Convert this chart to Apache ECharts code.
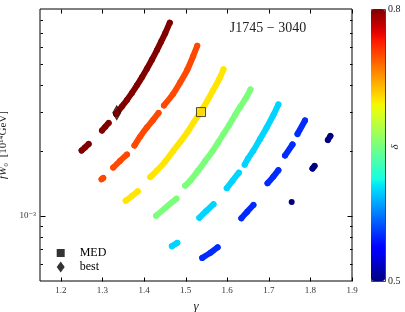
<!DOCTYPE html>
<html><head><meta charset="utf-8">
<script src="https://cdn.jsdelivr.net/npm/echarts@6/dist/echarts.min.js"></script>
<style>html,body{margin:0;padding:0;background:#fff}#c{width:405px;height:312px}</style>
</head><body><div id="c"></div>
<script>
// ---- data (gamma, fW0); each curve = list of visible segments ----
const deltaLevels = [0.8, 0.75, 0.7, 0.65, 0.6, 0.55, 0.5];
const curveD080 = [
  [[1.250,2.000e-3],[1.258,2.064e-3],[1.267,2.143e-3]],
  [[1.299,2.475e-3],[1.307,2.576e-3],[1.315,2.681e-3]],
  [[1.333,2.951e-3],[1.347,3.196e-3],[1.359,3.425e-3],[1.371,3.691e-3],[1.383,3.999e-3],[1.395,4.354e-3],
   [1.407,4.767e-3],[1.419,5.248e-3],[1.431,5.806e-3],[1.441,6.357e-3],[1.451,6.961e-3],[1.462,7.785e-3]]
];
const curveD075 = [
  [[1.298,1.474e-3],[1.302,1.495e-3]],
  [[1.326,1.668e-3],[1.342,1.788e-3],[1.359,1.916e-3]],
  [[1.377,2.109e-3],[1.391,2.322e-3],[1.407,2.556e-3],[1.422,2.768e-3],[1.435,2.983e-3]],
  [[1.448,3.231e-3],[1.470,3.652e-3],[1.487,4.128e-3],[1.504,4.717e-3],[1.518,5.446e-3],[1.528,6.091e-3]]
];
const curveD070 = [
  [[1.356,1.173e-3],[1.371,1.234e-3],[1.385,1.296e-3]],
  [[1.415,1.508e-3],[1.431,1.616e-3],[1.451,1.778e-3],[1.470,1.989e-3],[1.487,2.189e-3],[1.504,2.423e-3],
   [1.520,2.709e-3],[1.536,3.015e-3],[1.552,3.389e-3],[1.566,3.791e-3],[1.581,4.284e-3],[1.591,4.743e-3]]
];
const curveD065 = [
  [[1.429,1.000e-3],[1.453,1.095e-3],[1.478,1.199e-3]],
  [[1.499,1.377e-3],[1.511,1.452e-3],[1.530,1.616e-3],[1.547,1.788e-3],[1.564,1.978e-3],[1.578,2.178e-3],
   [1.591,2.384e-3],[1.605,2.624e-3],[1.619,2.920e-3],[1.631,3.179e-3],[1.646,3.518e-3],[1.656,3.831e-3]]
];
const curveD060 = [
  [[1.467,0.724e-3],[1.480,0.750e-3]],
  [[1.533,0.979e-3],[1.549,1.049e-3],[1.567,1.130e-3]],
  [[1.599,1.341e-3],[1.613,1.452e-3],[1.628,1.581e-3]],
  [[1.642,1.722e-3],[1.650,1.836e-3],[1.663,2.000e-3],[1.679,2.261e-3],[1.695,2.556e-3],[1.711,2.920e-3],[1.723,3.266e-3]]
];
const curveD055 = [
  [[1.540,0.639e-3],[1.559,0.674e-3],[1.577,0.715e-3]],
  [[1.634,0.974e-3],[1.648,1.044e-3],[1.663,1.121e-3]],
  [[1.697,1.414e-3],[1.711,1.516e-3],[1.723,1.624e-3]],
  [[1.739,1.896e-3],[1.757,2.132e-3]],
  [[1.769,2.384e-3],[1.787,2.754e-3]]
];
const curveD050 = [
  [[1.755,1.157e-3]],
  [[1.805,1.651e-3],[1.810,1.699e-3]],
  [[1.842,2.236e-3],[1.848,2.334e-3]]
];
const curves = [curveD080, curveD075, curveD070, curveD065, curveD060, curveD055, curveD050];
// markers: [gamma, fW0, delta]
const medPoint = [1.537, 3.01e-3, 0.705];
const bestPoint = [1.3345, 2.99e-3, 0.8];
// axes
const xRange = [1.15, 1.9];
const yRange = [5e-4, 9e-3];
const xTicks = [1.2, 1.3, 1.4, 1.5, 1.6, 1.7, 1.8, 1.9];
const yMajorTicks = [1e-3];
const yMinorTicks = [6e-4, 7e-4, 8e-4, 9e-4, 2e-3, 3e-3, 4e-3, 5e-3, 6e-3, 7e-3, 8e-3];
const deltaRange = [0.5, 0.8];
const labelText = {title: 'J1745 \u2212 3040', med: 'MED', best: 'best'};

// ---- styling / build ----
const SERIF = '"Liberation Serif", "DejaVu Serif", serif';
function jet(t) {
  const r = t < 0.35 ? 0 : t < 0.66 ? (t - 0.35) / 0.31 : t < 0.89 ? 1 : 1 - 0.5 * (t - 0.89) / 0.11;
  const g = t < 0.125 ? 0 : t < 0.375 ? (t - 0.125) / 0.25 : t < 0.64 ? 1 : t < 0.91 ? 1 - (t - 0.64) / 0.27 : 0;
  const b = t < 0.11 ? 0.5 + 0.5 * t / 0.11 : t < 0.34 ? 1 : t < 0.65 ? 1 - (t - 0.34) / 0.31 : 0;
  return 'rgb(' + [r, g, b].map(v => Math.round(255 * Math.max(0, Math.min(1, v)))).join(',') + ')';
}
const norm = d => (d - deltaRange[0]) / (deltaRange[1] - deltaRange[0]);
const jetColors = Array.from({length: 41}, (_, i) => jet(i / 40));

const series = [];
curves.forEach((segs, ci) => {
  const col = jet(norm(deltaLevels[ci]));
  segs.forEach(seg => {
    series.push({
      type: 'line', data: seg, silent: true, animation: false, smooth: 0.3,
      symbol: 'circle', symbolSize: 6, showSymbol: true,
      itemStyle: {color: col, borderWidth: 0},
      lineStyle: {color: col, width: 6, cap: 'round', join: 'round'},
      z: 2
    });
  });
});
const medIndex = series.length;
series.push({name: 'MED', type: 'scatter', data: [medPoint], symbol: 'rect', symbolSize: 9,
  itemStyle: {borderColor: '#222', borderWidth: 1}, z: 6, silent: true, animation: false});
series.push({name: 'best', type: 'scatter', data: [bestPoint], symbol: 'diamond', symbolSize: [8, 14],
  itemStyle: {borderColor: '#111', borderWidth: 1}, z: 6, silent: true, animation: false});

function tickSeries(points, dx, dy) {
  return {
    type: 'custom', coordinateSystem: 'cartesian2d', silent: true, clip: false, z: 8, animation: false,
    data: points,
    renderItem: function (params, api) {
      const p = api.coord([api.value(0), api.value(1)]);
      const x = Math.round(p[0]) + 0.5, y = Math.round(p[1]) + 0.5;
      return {type: 'line', shape: {x1: x, y1: y, x2: x + dx, y2: y + dy},
        style: {stroke: '#000', lineWidth: 1}};
    }
  };
}
series.push(tickSeries(xTicks.map(v => [v, yRange[0]]), 0, -4));
series.push(tickSeries(xTicks.map(v => [v, yRange[1]]), 0, 4));
series.push(tickSeries(yMajorTicks.map(v => [xRange[0], v]), 5, 0));
series.push(tickSeries(yMajorTicks.map(v => [xRange[1], v]), -5, 0));
series.push(tickSeries(yMinorTicks.map(v => [xRange[0], v]), 2.5, 0));
series.push(tickSeries(yMinorTicks.map(v => [xRange[1], v]), -2.5, 0));

const chart = echarts.init(document.getElementById('c'), null, {renderer: 'canvas'});
chart.setOption({
  animation: false,
  backgroundColor: '#fff',
  grid: {left: 40, top: 9, width: 312, height: 272, show: true, borderColor: '#000', borderWidth: 1,
    containLabel: false, outerBoundsMode: 'none'},
  xAxis: {
    type: 'value', min: xRange[0], max: xRange[1],
    axisLine: {show: false}, axisTick: {show: false}, splitLine: {show: false},
    axisLabel: {customValues: xTicks, formatter: v => v.toFixed(1), margin: 5,
      fontFamily: SERIF, fontSize: 9, color: '#333'},
    name: '\u03b3', nameLocation: 'middle', nameGap: 15,
    nameTextStyle: {fontFamily: SERIF, fontStyle: 'italic', fontSize: 13, color: '#222'}
  },
  yAxis: {
    type: 'log', min: yRange[0], max: yRange[1],
    axisLine: {show: false}, axisTick: {show: false}, splitLine: {show: false},
    axisLabel: {formatter: v => (Math.abs(Math.log10(v) + 3) < 1e-6 ? '10\u207b\u00b3' : ''),
      margin: 4, fontFamily: SERIF, fontSize: 9, color: '#333', showMinLabel: false, showMaxLabel: false},
    name: '{it|fW}{n|\u2080  [10\u00b9\u2074GeV]}', nameLocation: 'middle', nameGap: 22, nameRotate: 90,
    nameTextStyle: {fontFamily: SERIF, fontSize: 11, color: '#222',
      rich: {it: {fontFamily: SERIF, fontStyle: 'italic', fontSize: 11, color: '#222'},
             n: {fontFamily: SERIF, fontSize: 11, color: '#222'}}}
  },
  visualMap: {
    type: 'continuous', min: deltaRange[0], max: deltaRange[1], dimension: 2,
    seriesIndex: [medIndex, medIndex + 1], calculable: false, hoverLink: false, realtime: false,
    left: 371, top: 9, itemWidth: 14, itemHeight: 272, padding: 0, orient: 'vertical',
    text: null, inRange: {color: jetColors}
  },
  legend: [
    {data: [{name: 'MED', icon: 'path://M0,0H10V10H0Z', itemStyle: {color: '#000', borderWidth: 0}}],
     left: 56.7, top: 247, itemWidth: 8, itemHeight: 8, padding: 0, selectedMode: false,
     textStyle: {fontFamily: SERIF, fontSize: 12, color: '#000', padding: [0, 0, 0, 10]}},
    {data: [{name: 'best', icon: 'path://M5,0L10,7L5,14L0,7Z', itemStyle: {color: '#000', borderWidth: 0}}],
     left: 56.7, top: 261, itemWidth: 8, itemHeight: 12, padding: 0, selectedMode: false,
     textStyle: {fontFamily: SERIF, fontSize: 12, color: '#000', padding: [0, 0, 0, 10]}}
  ],
  graphic: [
    {type: 'text', x: 268, y: 28.5, style: {text: labelText.title, font: '14px ' + SERIF, fill: '#222',
      textAlign: 'center', textVerticalAlign: 'middle'}},
    {type: 'rect', shape: {x: 371.5, y: 9.5, width: 14, height: 272}, style: {fill: 'none', stroke: '#444', lineWidth: 1}},
    {type: 'text', x: 388, y: 9.5, style: {text: String(deltaRange[1].toFixed(1)), font: '10px ' + SERIF, fill: '#222',
      textAlign: 'left', textVerticalAlign: 'middle'}},
    {type: 'text', x: 388, y: 281, style: {text: String(deltaRange[0].toFixed(1)), font: '10px ' + SERIF, fill: '#222',
      textAlign: 'left', textVerticalAlign: 'middle'}},
    {type: 'text', x: 395, y: 147, rotation: Math.PI / 2, style: {text: '\u03b4', font: 'italic 11px ' + SERIF, fill: '#222',
      textAlign: 'center', textVerticalAlign: 'middle'}}
  ],
  series: series
});
</script>
</body></html>
